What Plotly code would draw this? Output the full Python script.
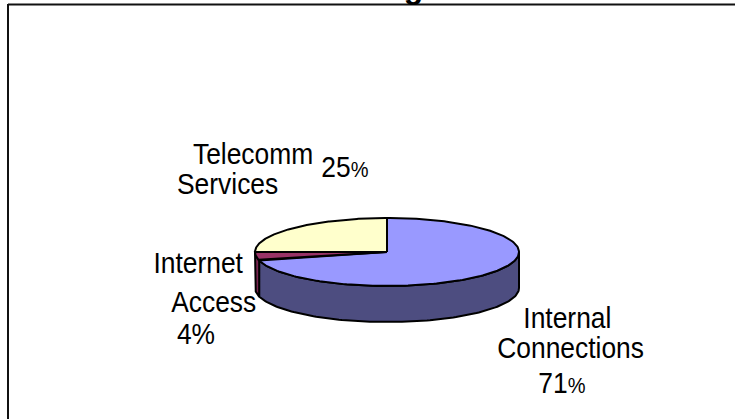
import numpy as np
import plotly.graph_objects as go

categories = ["Internal Connections", "Internet Access", "Telecomm Services"]
values = [71, 4, 25]
top_colors = ["#9999FF", "#993366", "#FFFFCC"]
side_colors = ["#4D4D80", "#7A2550", "#808066"]

title_text = "Funding"
label_lines = ["Telecomm", "Services", "Internet", "Access", "4%",
               "Internal", "Connections"]
label_x = [253, 227.5, 197.5, 213.5, 196, 567, 570.5]
label_base = [165, 195, 274, 313, 345, 329, 359]
pct_lines = ["25", "71"]
pct_x = [345, 561.5]
pct_base = [178, 394]

W, H = 735, 419
CX, CY, RX, RY, DEPTH = 387, 252, 132, 34, 36
FONT = "Liberation Sans, Arial"
FS = 29


def pt(theta):
    return CX + RX * np.sin(theta), CY - RY * np.cos(theta)


fig = go.Figure()
fracs = np.array(values) / sum(values)
edges = np.concatenate([[0], np.cumsum(fracs)]) * 2 * np.pi

for i in range(len(values)):
    a, b = max(edges[i], np.pi / 2), min(edges[i + 1], 3 * np.pi / 2)
    if b <= a:
        continue
    t = np.linspace(a, b, 120)
    x, y = pt(t)
    xs = np.concatenate([x, x[::-1], [x[0]]])
    ys = np.concatenate([y, y[::-1] + DEPTH, [y[0]]])
    fig.add_trace(go.Scatter(x=xs, y=ys, mode="lines", fill="toself",
                             fillcolor=side_colors[i],
                             line=dict(color="black", width=2),
                             hoverinfo="skip", showlegend=False))
for i in range(len(values)):
    t = np.linspace(edges[i], edges[i + 1], 200)
    x, y = pt(t)
    xs = np.concatenate([[CX], x, [CX]])
    ys = np.concatenate([[CY], y, [CY]])
    fig.add_trace(go.Scatter(x=xs, y=ys, mode="lines", fill="toself",
                             fillcolor=top_colors[i],
                             line=dict(color="black", width=2),
                             name=categories[i], hoverinfo="name",
                             showlegend=False))

DESC = 7
for s, x, b in zip(label_lines, label_x, label_base):
    fig.add_annotation(x=x, y=b + DESC, text=s, showarrow=False, xanchor="center",
                       yanchor="bottom",
                       font=dict(family=FONT, size=FS, color="black"))
for s, x, b in zip(pct_lines, pct_x, pct_base):
    fig.add_annotation(x=x, y=b + DESC, text=f"{s}<span style='font-size:22px'>%</span>",
                       showarrow=False, xanchor="center", yanchor="bottom",
                       font=dict(family=FONT, size=FS, color="black"))

fig.add_annotation(x=425, y=7, text=f"<b>{title_text}</b>", showarrow=False,
                   xanchor="right", yanchor="bottom",
                   font=dict(family=FONT, size=32, color="black"))

fig.add_shape(type="line", x0=8, x1=8, y0=4, y1=H + 5, line=dict(color="#111", width=2))
fig.add_shape(type="line", x0=8, x1=W + 5, y0=4.5, y1=4.5, line=dict(color="#111", width=2))

fig.update_layout(
    width=W, height=H, margin=dict(l=0, r=0, t=0, b=0),
    paper_bgcolor="white", plot_bgcolor="white", showlegend=False,
    xaxis=dict(range=[0, W], visible=False, fixedrange=True),
    yaxis=dict(range=[H, 0], visible=False, fixedrange=True),
)
post = """
document.body.style.margin = '0';
document.querySelectorAll('.annotation-text').forEach(function (t) {
  if (t.textContent.indexOf('%s') >= 0) return;
  t.setAttribute('lengthAdjust', 'spacingAndGlyphs');
  t.setAttribute('textLength', String(t.getComputedTextLength() * 0.91));
});
""" % title_text
fig.write_html("out.html", config={"displayModeBar": False}, post_script=post)
